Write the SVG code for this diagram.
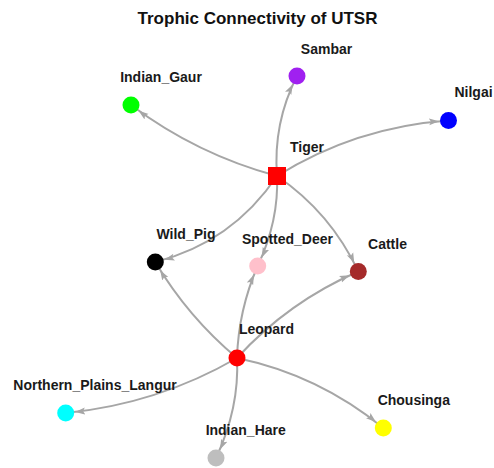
<svg xmlns="http://www.w3.org/2000/svg" width="494" height="468" viewBox="0 0 494 468">
  <style>
    .edge { fill: none; stroke: #a6a6a6; stroke-width: 2; }
    .lbl { font-family: "Liberation Sans", Arial, sans-serif; font-weight: bold; font-size: 14px; fill: #1a1a1a; text-anchor: middle; }
    .title { font-family: "Liberation Sans", Arial, sans-serif; font-weight: bold; font-size: 17px; fill: #111; text-anchor: middle; }
  </style>
  <defs>
    <marker id="arr" markerUnits="userSpaceOnUse" markerWidth="11" markerHeight="8" viewBox="0 0 11 8" refX="19.5" refY="4" orient="auto">
      <path d="M0,0.5 L10,4 L0,7.5 L2,4 z" fill="#a6a6a6"/>
    </marker>
  </defs>
  <rect width="494" height="468" fill="#ffffff"/>
  <text class="title" x="257.5" y="24">Trophic Connectivity of UTSR</text>

  <g id="connectors">
    <path class="edge" marker-end="url(#arr)" d="M277,176 Q197,154.5 131,105"/>
    <path class="edge" marker-end="url(#arr)" d="M277,176 Q273,123 297,76"/>
    <path class="edge" marker-end="url(#arr)" d="M277,176 Q355.5,127 448.5,120.5"/>
    <path class="edge" marker-end="url(#arr)" d="M277,176 Q232,242.5 155.3,262"/>
    <path class="edge" marker-end="url(#arr)" d="M277,176 Q279,220.5 257.7,266"/>
    <path class="edge" marker-end="url(#arr)" d="M277,176 Q330.5,212.5 358.3,271.5"/>
    <path class="edge" marker-end="url(#arr)" d="M237,358 Q188,317 155.3,262"/>
    <path class="edge" marker-end="url(#arr)" d="M237,358 Q238.5,310 257.7,266"/>
    <path class="edge" marker-end="url(#arr)" d="M237,358 Q288.3,301.8 358.3,271.5"/>
    <path class="edge" marker-end="url(#arr)" d="M237,358 Q157.5,404 65.7,413"/>
    <path class="edge" marker-end="url(#arr)" d="M237,358 Q239.5,408 216,458"/>
    <path class="edge" marker-end="url(#arr)" d="M237,358 Q318.6,375 383.3,428"/>
  </g>

  <g id="Tiger">
    <rect x="268" y="167" width="18" height="18" fill="#ff0000"/>
    <text class="lbl" x="307" y="152">Tiger</text>
  </g>
  <g id="Indian_Gaur">
    <circle cx="131" cy="105" r="8.5" fill="#00ff00"/>
    <text class="lbl" x="161" y="82">Indian_Gaur</text>
  </g>
  <g id="Sambar">
    <circle cx="297" cy="76" r="8.5" fill="#a020f0"/>
    <text class="lbl" x="326.5" y="54">Sambar</text>
  </g>
  <g id="Nilgai">
    <circle cx="448.5" cy="120.5" r="8.5" fill="#0000ff"/>
    <text class="lbl" x="473.5" y="97">Nilgai</text>
  </g>
  <g id="Wild_Pig">
    <circle cx="155.3" cy="262" r="8.5" fill="#000000"/>
    <text class="lbl" x="186" y="238.5">Wild_Pig</text>
  </g>
  <g id="Spotted_Deer">
    <circle cx="257.7" cy="266" r="8.5" fill="#ffc0cb"/>
    <text class="lbl" x="287.5" y="244">Spotted_Deer</text>
  </g>
  <g id="Cattle">
    <circle cx="358.3" cy="271.5" r="8.5" fill="#a52a2a"/>
    <text class="lbl" x="387.5" y="249">Cattle</text>
  </g>
  <g id="Leopard">
    <circle cx="237" cy="358" r="8.5" fill="#ff0000"/>
    <text class="lbl" x="266.5" y="334">Leopard</text>
  </g>
  <g id="Northern_Plains_Langur">
    <circle cx="65.7" cy="413" r="8.5" fill="#00ffff"/>
    <text class="lbl" x="95" y="389.5">Northern_Plains_Langur</text>
  </g>
  <g id="Indian_Hare">
    <circle cx="216" cy="458" r="8.5" fill="#bebebe"/>
    <text class="lbl" x="245.7" y="435">Indian_Hare</text>
  </g>
  <g id="Chousinga">
    <circle cx="383.3" cy="428" r="8.5" fill="#ffff00"/>
    <text class="lbl" x="413.8" y="404.5">Chousinga</text>
  </g>
</svg>
